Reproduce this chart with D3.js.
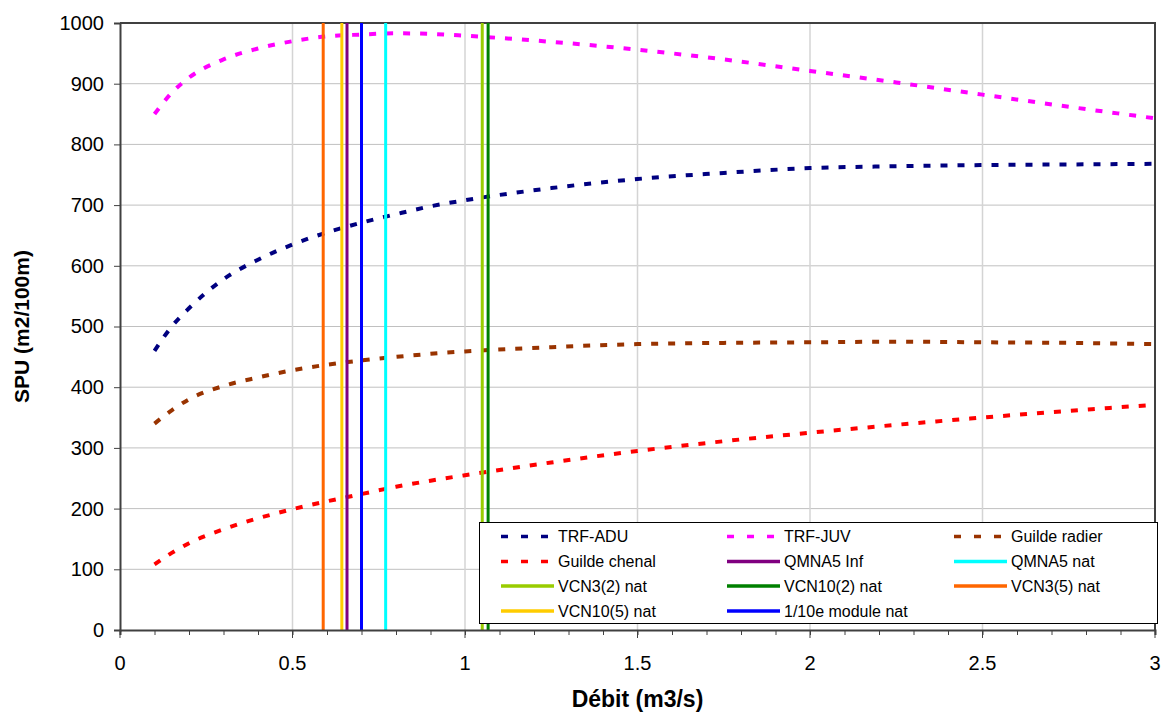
<!DOCTYPE html>
<html>
<head>
<meta charset="utf-8">
<script src="https://cdn.jsdelivr.net/npm/d3@7"></script>
<style>
  body { margin: 0; background: #fff; }
  svg { display: block; font-family: "Liberation Sans", Arial, sans-serif; }
</style>
</head>
<body>
<svg id="chart" width="1163" height="715"></svg>
<script>
// débit (m3/s) at which each SPU curve was read
var debits = [0.1, 0.15, 0.2, 0.3, 0.4, 0.5, 0.6, 0.7, 0.8, 0.9, 1.0, 1.25, 1.5, 1.75, 2.0, 2.25, 2.5, 2.75, 3.0];
var trfAdu = [460, 500, 530, 578, 610, 635, 655, 671, 685, 698, 708, 728, 743, 753, 761, 764, 766, 767, 768];
var trfJuv = [850, 885, 910, 940, 958, 970, 978, 981, 983, 982, 979, 969, 956, 940, 921, 902, 882, 862, 843];
var guildeRadier = [340, 362, 380, 402, 416, 428, 437, 444, 450, 455, 459, 466, 471, 473, 474, 475, 474, 473, 471];
var guildeChenal = [108, 127, 143, 166, 184, 199, 212, 224, 236, 246, 255, 276, 295, 311, 325, 338, 350, 361, 371];

var curveNames = ["TRF-ADU", "TRF-JUV", "Guilde radier", "Guilde chenal"];
var curveColors = ["#000080", "#FF00FF", "#993300", "#FF0000"];
var curveValues = [trfAdu, trfJuv, guildeRadier, guildeChenal];

// reference flows (vertical lines)
var refNames = ["QMNA5 Inf", "QMNA5 nat", "VCN3(2) nat", "VCN10(2) nat", "VCN3(5) nat", "VCN10(5) nat", "1/10e module nat"];
var refDebits = [0.658, 0.770, 1.050, 1.067, 0.589, 0.643, 0.700];
var refColors = ["#800080", "#00FFFF", "#99CC00", "#008000", "#FF6600", "#FFCC00", "#0000FF"];

var yTicks = d3.range(0, 1001, 100);
var xMinorTicks = d3.range(0, 31).map(function(i) { return i / 10; });
var xLabelTicks = [0, 0.5, 1, 1.5, 2, 2.5, 3];

var svg = d3.select("#chart");
var plotLeft = 120, plotRight = 1155, plotTop = 23, plotBottom = 630;

var x = d3.scaleLinear().domain([0, 3]).range([plotLeft, plotRight]);
var y = d3.scaleLinear().domain([0, 1000]).range([plotBottom, plotTop]);

/* gridlines */
svg.append("g").selectAll("line")
    .data(yTicks.filter(function(d) { return d > 0 && d < 1000; }))
    .enter().append("line")
    .attr("x1", plotLeft).attr("x2", plotRight)
    .attr("y1", function(d) { return y(d); })
    .attr("y2", function(d) { return y(d); })
    .style("stroke", "#c0c0c0").style("stroke-width", 1);

svg.append("g").selectAll("line")
    .data([0.5, 1, 1.5, 2, 2.5])
    .enter().append("line")
    .attr("x1", function(d) { return x(d); })
    .attr("x2", function(d) { return x(d); })
    .attr("y1", plotTop).attr("y2", plotBottom)
    .style("stroke", "#d4d4d4").style("stroke-width", 1.5);

/* plot frame, top and right */
svg.append("path")
    .attr("d", "M" + plotLeft + "," + plotTop + "H" + plotRight + "V" + plotBottom)
    .style("fill", "none").style("stroke", "#404040").style("stroke-width", 2);

/* curves */
var line = d3.line()
    .x(function(d) { return x(d[0]); })
    .y(function(d) { return y(d[1]); })
    .curve(d3.curveMonotoneX);

curveValues.forEach(function(vals, i) {
    svg.append("path")
        .datum(debits.map(function(q, j) { return [q, vals[j]]; }))
        .attr("d", line)
        .style("fill", "none")
        .style("stroke", curveColors[i])
        .style("stroke-width", 4)
        .style("stroke-dasharray", "7,10");
});

/* reference flows */
refDebits.forEach(function(q, i) {
    svg.append("line")
        .attr("x1", x(q)).attr("x2", x(q))
        .attr("y1", y(1000)).attr("y2", y(0))
        .style("stroke", refColors[i])
        .style("stroke-width", 3);
});

/* axes */
var yAxis = d3.axisLeft(y).tickValues(yTicks).tickSize(6).tickPadding(10).tickFormat(d3.format("d"));
var gy = svg.append("g").attr("transform", "translate(" + plotLeft + ",0)").call(yAxis);
gy.select(".domain").style("stroke", "#404040").style("stroke-width", 2);
gy.selectAll(".tick line").style("stroke", "#404040");
gy.selectAll("text").style("font-size", "20px").style("fill", "#000");

var xAxis = d3.axisBottom(x).tickValues(xMinorTicks).tickSize(5).tickFormat("");
var gx = svg.append("g").attr("transform", "translate(0," + plotBottom + ")").call(xAxis);
gx.select(".domain").style("stroke", "#404040").style("stroke-width", 2);
gx.selectAll(".tick line").style("stroke", "#404040");

svg.append("g").selectAll("line")
    .data(xLabelTicks)
    .enter().append("line")
    .attr("x1", function(d) { return x(d); })
    .attr("x2", function(d) { return x(d); })
    .attr("y1", plotBottom).attr("y2", plotBottom + 8)
    .style("stroke", "#404040");

svg.append("g").selectAll("text")
    .data(xLabelTicks)
    .enter().append("text")
    .attr("x", function(d) { return x(d); })
    .attr("y", plotBottom + 40)
    .attr("text-anchor", "middle")
    .style("font-size", "20px")
    .text(function(d) { return d3.format("")(d); });

/* axis titles */
svg.append("text")
    .attr("x", x(1.5)).attr("y", 707)
    .attr("text-anchor", "middle")
    .style("font-size", "23px").style("font-weight", "bold")
    .text("Débit (m3/s)");

svg.append("text")
    .attr("transform", "translate(29," + y(500) + ") rotate(-90)")
    .attr("text-anchor", "middle")
    .style("font-size", "21px").style("font-weight", "bold")
    .text("SPU (m2/100m)");

/* legend */
var legendItems = curveNames.map(function(n, i) { return { name: n, color: curveColors[i], dashed: true }; })
    .concat(refNames.map(function(n, i) { return { name: n, color: refColors[i], dashed: false }; }));

var legend = svg.append("g");
legend.append("rect")
    .attr("x", 479.5).attr("y", 522.5)
    .attr("width", 678).attr("height", 101)
    .style("fill", "#fff").style("stroke", "#000").style("stroke-width", 1);

var colX = [501, 727, 954];
var rowY = [536.5, 561.5, 586, 611];

var item = legend.selectAll("g.item")
    .data(legendItems)
    .enter().append("g")
    .attr("class", "item")
    .attr("transform", function(d, i) {
        return "translate(" + colX[i % 3] + "," + rowY[Math.floor(i / 3)] + ")";
    });

item.append("line")
    .attr("x1", 0).attr("x2", 53)
    .style("stroke", function(d) { return d.color; })
    .style("stroke-width", 3.5)
    .style("stroke-dasharray", function(d) { return d.dashed ? "7,13" : null; });

item.append("text")
    .attr("x", 57).attr("dy", "0.35em")
    .style("font-size", "16px")
    .text(function(d) { return d.name; });
</script>
</body>
</html>
